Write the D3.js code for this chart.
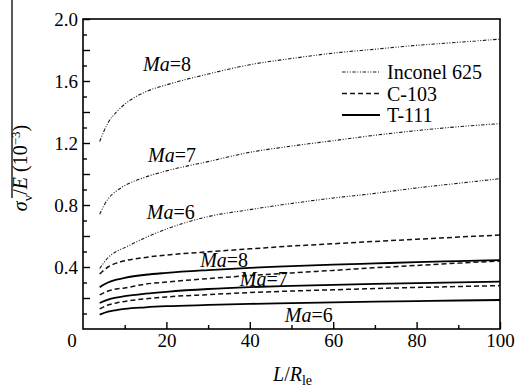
<!DOCTYPE html>
<html>
<head>
<meta charset="utf-8">
<script src="https://cdn.jsdelivr.net/npm/d3@7"></script>
<style>
  body { margin: 0; background: #fff; }
  svg { display: block; }
</style>
</head>
<body>
<svg id="chart" width="517" height="389" font-family="Liberation Serif, DejaVu Serif, serif"></svg>
<script>
// Slenderness ratio L/R_le
const ratio = [4, 6, 8, 10, 15, 20, 30, 40, 50, 60, 70, 80, 90, 100];

// sigma_v / E (10^-3) for each material and Mach number
const inconelMa8 = [1.21, 1.33, 1.40, 1.45, 1.53, 1.575, 1.645, 1.705, 1.745, 1.78, 1.805, 1.83, 1.85, 1.87];
const inconelMa7 = [0.74, 0.84, 0.89, 0.925, 0.98, 1.02, 1.08, 1.14, 1.18, 1.215, 1.25, 1.28, 1.305, 1.325];
const inconelMa6 = [0.39, 0.46, 0.50, 0.525, 0.59, 0.645, 0.725, 0.77, 0.81, 0.845, 0.875, 0.91, 0.94, 0.97];
const c103Ma8 = [0.355, 0.40, 0.425, 0.44, 0.462, 0.477, 0.498, 0.517, 0.535, 0.55, 0.565, 0.579, 0.593, 0.606];
const c103Ma7 = [0.22, 0.245, 0.258, 0.265, 0.29, 0.303, 0.325, 0.345, 0.362, 0.378, 0.395, 0.41, 0.425, 0.438];
const c103Ma6 = [0.13, 0.155, 0.168, 0.178, 0.195, 0.207, 0.222, 0.235, 0.245, 0.253, 0.261, 0.268, 0.274, 0.28];
const t111Ma8 = [0.27, 0.30, 0.318, 0.33, 0.35, 0.362, 0.38, 0.395, 0.405, 0.415, 0.423, 0.431, 0.438, 0.445];
const t111Ma7 = [0.168, 0.19, 0.203, 0.212, 0.228, 0.24, 0.258, 0.27, 0.278, 0.285, 0.291, 0.296, 0.301, 0.305];
const t111Ma6 = [0.093, 0.112, 0.122, 0.13, 0.14, 0.147, 0.155, 0.162, 0.167, 0.172, 0.176, 0.18, 0.184, 0.187];

const materials = ["Inconel 625", "C-103", "T-111"];
const xTickValues = [20, 40, 60, 80, 100];
const xMinorValues = [10, 30, 50, 70, 90];
const yTickValues = [0.4, 0.8, 1.2, 1.6, 2.0];

// Mach-number annotations, anchored in data coordinates
const machText = ["8", "7", "6", "8", "7", "6"];
const machAtX = [14.4, 15.6, 15.3, 28.1, 37.6, 48.4];
const machAtY = [1.665, 1.077, 0.71, 0.40, 0.277, 0.045];

const SERIF = "'Liberation Serif', 'DejaVu Serif', serif";

const svg = d3.select("#chart");
const x = d3.scaleLinear().domain([0, 100]).range([83, 500]);
const y = d3.scaleLinear().domain([0, 2]).range([329, 19]);

const lineStyle = {
  "Inconel 625": { width: 1.1, dash: "3.5,1.6,1,1.6,1,1.6", color: "#1a1a1a" },
  "C-103": { width: 1.5, dash: "5,3", color: "#111" },
  "T-111": { width: 1.8, dash: null, color: "#000" }
};

const series = [
  { mat: "Inconel 625", values: inconelMa8 },
  { mat: "Inconel 625", values: inconelMa7 },
  { mat: "Inconel 625", values: inconelMa6 },
  { mat: "C-103", values: c103Ma8 },
  { mat: "C-103", values: c103Ma7 },
  { mat: "C-103", values: c103Ma6 },
  { mat: "T-111", values: t111Ma8 },
  { mat: "T-111", values: t111Ma7 },
  { mat: "T-111", values: t111Ma6 }
];

// Axes: ticks point inward
const gx = svg.append("g").attr("transform", "translate(0,329)")
  .call(d3.axisBottom(x).tickValues(xTickValues).tickSizeInner(-7).tickSizeOuter(0).tickPadding(5).tickFormat(d3.format("d")));
const gxm = svg.append("g").attr("transform", "translate(0,329)")
  .call(d3.axisBottom(x).tickValues(xMinorValues).tickSizeInner(-4).tickSizeOuter(0).tickFormat(""));

const yMinor = d3.range(1, 20).map(i => i / 10).filter(v => !yTickValues.some(t => Math.abs(t - v) < 1e-6));
const gy = svg.append("g").attr("transform", "translate(83,0)")
  .call(d3.axisLeft(y).tickValues(yTickValues).tickSizeInner(-7).tickSizeOuter(0).tickPadding(5).tickFormat(d3.format(".1f")));
const gym = svg.append("g").attr("transform", "translate(83,0)")
  .call(d3.axisLeft(y).tickValues(yMinor).tickSizeInner(-4).tickSizeOuter(0).tickFormat(""));

[gx, gxm, gy, gym].forEach(g => {
  g.attr("font-family", null).attr("font-size", null);
  g.select(".domain").remove();
  g.selectAll("line").attr("stroke", "#000").attr("stroke-width", 1.4);
  g.selectAll("text").style("font-size", "19px").attr("fill", "#000");
});
gym.selectAll(".tick line").attr("x2", d => (Math.round(d * 10) % 2 === 0) ? 7 : 4);

// Shared origin label
svg.append("text").attr("x", 72).attr("y", 347).attr("text-anchor", "middle")
  .style("font-size", "19px").text("0");

// Curves
const line = d3.line().x((d, i) => x(ratio[i])).y(d => y(d)).curve(d3.curveMonotoneX);
svg.append("g").selectAll("path").data(series).join("path")
  .attr("d", d => line(d.values))
  .attr("fill", "none")
  .attr("stroke", d => lineStyle[d.mat].color)
  .attr("stroke-width", d => lineStyle[d.mat].width)
  .attr("stroke-dasharray", d => lineStyle[d.mat].dash);

// Plot frame
svg.append("rect").attr("x", 83).attr("y", 19).attr("width", 417).attr("height", 310)
  .attr("fill", "none").attr("stroke", "#000").attr("stroke-width", 1.6);

// Mach labels
const ml = svg.append("g").selectAll("text").data(machText).join("text")
  .attr("x", (d, i) => x(machAtX[i])).attr("y", (d, i) => y(machAtY[i]))
  .style("font-size", "20px");
ml.append("tspan").style("font-style", "italic").text("Ma");
ml.append("tspan").text(d => "=" + d);

// Legend
const lg = svg.append("g");
materials.forEach((m, i) => {
  const ly = 72 + i * 21.5;
  lg.append("line").attr("x1", 342).attr("x2", 380).attr("y1", ly).attr("y2", ly)
    .attr("stroke", lineStyle[m].color).attr("stroke-width", lineStyle[m].width)
    .attr("stroke-dasharray", lineStyle[m].dash);
  lg.append("text").attr("x", 387).attr("y", ly + 7).style("font-size", "20px").text(m);
});

// Axis titles
const xt = svg.append("text").attr("x", 273).attr("y", 381).style("font-size", "20px");
xt.append("tspan").style("font-style", "italic").text("L");
xt.append("tspan").text("/");
xt.append("tspan").style("font-style", "italic").text("R");
xt.append("tspan").attr("dy", 4).style("font-size", "14px").text("le");

const yt = svg.append("text").attr("transform", "translate(27,168) rotate(-90)")
  .attr("text-anchor", "middle").style("font-size", "20px");
yt.append("tspan").style("font-style", "italic").text("σ");
yt.append("tspan").attr("dy", 5).style("font-size", "13px").text("v");
yt.append("tspan").attr("dy", -5).text("/");
yt.append("tspan").style("font-style", "italic").text("E");
yt.append("tspan").text(" (10");
yt.append("tspan").attr("dy", -7).style("font-size", "13px").text("−3");
yt.append("tspan").attr("dy", 7).text(")");

// Every label uses the serif face
svg.selectAll("text").style("font-family", SERIF);

svg.append("line").attr("x1", 12).attr("x2", 12).attr("y1", 0).attr("y2", 198)
  .attr("stroke", "#000").attr("stroke-width", 1.3);
</script>
</body>
</html>
